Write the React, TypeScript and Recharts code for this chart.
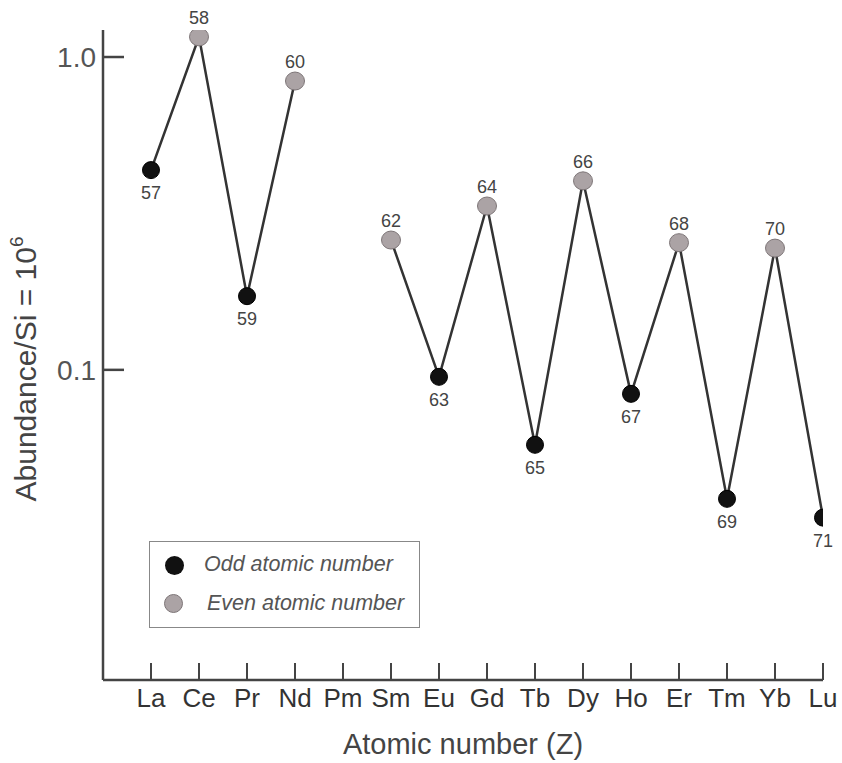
import React from 'react'
import { ComposedChart, Line, XAxis, YAxis, LabelList } from 'recharts'

const elements = ['La', 'Ce', 'Pr', 'Nd', 'Pm', 'Sm', 'Eu', 'Gd', 'Tb', 'Dy', 'Ho', 'Er', 'Tm', 'Yb', 'Lu']
const atomicNumbers = [57, 58, 59, 60, 61, 62, 63, 64, 65, 66, 67, 68, 69, 70, 71]
const abundance = [0.435, 1.16, 0.172, 0.838, null, 0.26, 0.095, 0.334, 0.0576, 0.402, 0.0838, 0.255, 0.0387, 0.245, 0.0337]
const yTicks = [0.1, 1]

const data = atomicNumbers.map((z, i) => ({ z, name: elements[i], value: abundance[i] }))

const FONT = '"Liberation Sans", Arial, Helvetica, sans-serif'
const ODD = '#111'
const EVEN = '#aba3a5'

const PointDot = (props: any) => {
  const { cx, cy, payload, index } = props
  if (cx == null || cy == null || payload?.value == null) return <g key={index} />
  const odd = payload.z % 2 === 1
  return (
    <ellipse
      key={index}
      cx={cx}
      cy={cy}
      rx={odd ? 8.5 : 9.5}
      ry={odd ? 8.5 : 9}
      fill={odd ? ODD : EVEN}
      stroke={odd ? '#000' : '#7d7577'}
      strokeWidth={1}
    />
  )
}

const PointLabel = (props: any) => {
  const { x, y, value, index } = props
  if (x == null || y == null || data[index]?.value == null) return null
  const odd = value % 2 === 1
  return (
    <text
      x={x}
      y={odd ? y + 29 : y - 13}
      textAnchor="middle"
      fontSize={18}
      fontFamily={FONT}
      fill="#444"
    >
      {value}
    </text>
  )
}

const YTick = ({ x, y, payload }: any) => (
  <g>
    <line x1={x} y1={y} x2={x + 21} y2={y} stroke="#444" strokeWidth={2.5} />
    <text x={x - 7} y={y + 10} textAnchor="end" fontSize={28} fontFamily={FONT} fill="#555">
      {payload.value === 1 ? '1.0' : '0.1'}
    </text>
  </g>
)

const XTick = ({ x, y, payload }: any) => (
  <g>
    <line x1={x} y1={y} x2={x} y2={y - 17} stroke="#444" strokeWidth={2} />
    <text x={x} y={y + 27} textAnchor="middle" fontSize={26} fontFamily={FONT} fill="#333">
      {elements[atomicNumbers.indexOf(payload.value)]}
    </text>
  </g>
)

export default function App() {
  return (
    <div style={{ position: 'absolute', left: 0, top: 0, width: 842, height: 763, background: '#fff' }}>
      <ComposedChart width={842} height={763} data={data} margin={{ top: 30, right: 19, bottom: 0, left: 0 }}>
        <XAxis
          dataKey="z"
          type="number"
          domain={[56, 71]}
          ticks={atomicNumbers}
          allowDataOverflow
          height={83}
          tickSize={0}
          tickMargin={0}
          tickLine={false}
          axisLine={{ stroke: '#444', strokeWidth: 2.5 }}
          tick={<XTick />}
          interval={0}
          label={{
            content: () => (
              <text x={463} y={754} textAnchor="middle" fontSize={29} fontFamily={FONT} fill="#444">
                Atomic number (Z)
              </text>
            ),
          }}
        />
        <YAxis
          scale="log"
          type="number"
          domain={[0.0102, 1.22]}
          allowDataOverflow
          ticks={yTicks}
          width={103}
          tickSize={0}
          tickMargin={0}
          tickLine={false}
          axisLine={{ stroke: '#444', strokeWidth: 2.5 }}
          tick={<YTick />}
          label={{
            content: () => (
              <text
                transform="translate(36, 369) rotate(-90)"
                textAnchor="middle"
                fontSize={30}
                fontFamily={FONT}
                fill="#444"
              >
                Abundance/Si = 10
                <tspan fontSize={19} dy={-13}>6</tspan>
              </text>
            ),
          }}
        />
        <Line
          dataKey="value"
          stroke="#333"
          strokeWidth={2.5}
          isAnimationActive={false}
          connectNulls={false}
          dot={PointDot}
          activeDot={false}
        >
          <LabelList dataKey="z" content={PointLabel} />
        </Line>
      </ComposedChart>
      <div
        style={{
          position: 'absolute',
          left: 149,
          top: 541,
          width: 271,
          height: 87,
          boxSizing: 'border-box',
          border: '1.5px solid #888',
          background: '#fff',
          fontFamily: FONT,
          fontStyle: 'italic',
          fontSize: 21.5,
          color: '#555',
          whiteSpace: 'nowrap',
        }}
      >
        <div style={{ position: 'absolute', left: 15, top: 14, width: 19, height: 19, borderRadius: '50%', background: ODD }} />
        <div style={{ position: 'absolute', left: 54, top: 9, lineHeight: '26px' }}>Odd atomic number</div>
        <div
          style={{
            position: 'absolute',
            left: 14,
            top: 52,
            width: 19,
            height: 19,
            borderRadius: '50%',
            background: EVEN,
            border: '1px solid #7d7577',
            boxSizing: 'border-box',
          }}
        />
        <div style={{ position: 'absolute', left: 57, top: 48, lineHeight: '26px' }}>Even atomic number</div>
      </div>
    </div>
  )
}
